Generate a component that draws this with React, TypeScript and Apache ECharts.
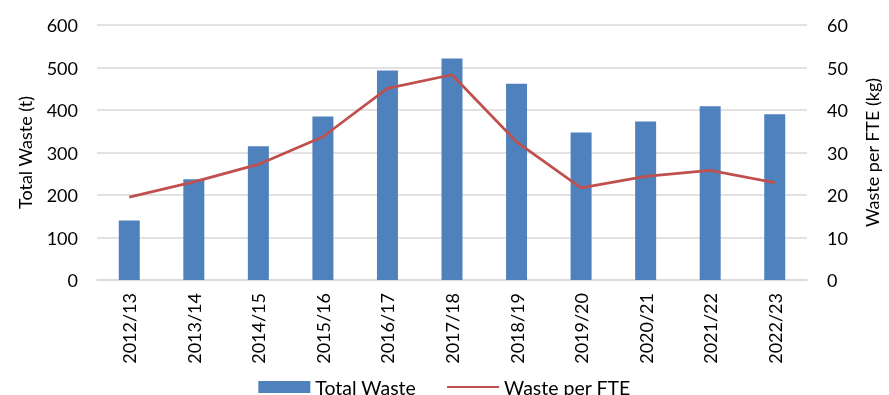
import React, { useEffect, useRef } from "react";
import * as echarts from "echarts";

const categories = ["2012/13", "2013/14", "2014/15", "2015/16", "2016/17", "2017/18", "2018/19", "2019/20", "2020/21", "2021/22", "2022/23"];
const totalWaste = [140, 237, 315, 385, 493, 521, 462, 347, 373, 409, 390];
const wastePerFTE = [19.5, 23.1, 27.2, 33.7, 45.1, 48.3, 32.5, 21.7, 24.4, 25.8, 22.9];

const FONT = "Lato";

export default function App() {
  const ref = useRef<HTMLDivElement>(null);
  useEffect(() => {
    if (!ref.current) return;
    const chart = echarts.init(ref.current, null, { renderer: "svg" });
    const txt = { color: "#000", fontFamily: FONT, fontSize: 18 };
    chart.setOption({
      animation: false,
      textStyle: { fontFamily: FONT },
      grid: { left: 97, right: 74, top: 25, bottom: 115 },
      legend: {
        top: 372,
        left: "center",
        itemWidth: 52,
        itemHeight: 12,
        itemGap: 30,
        textStyle: { ...txt, fontSize: 19.5 },
        data: [
          { name: "Total Waste", icon: "rect" },
          { name: "Waste per FTE", itemStyle: { opacity: 0 } },
        ],
      },
      xAxis: {
        type: "category",
        data: categories,
        axisLine: { lineStyle: { color: "#D9D9D9", width: 1.5 } },
        axisTick: { show: false },
        axisLabel: { ...txt, rotate: 90, margin: 13 },
      },
      yAxis: [
        {
          type: "value",
          min: 0,
          max: 600,
          interval: 100,
          name: "Total Waste (t)",
          nameLocation: "middle",
          nameGap: 63,
          nameTextStyle: txt,
          axisLabel: { ...txt, margin: 19 },
          splitLine: { lineStyle: { color: "#D9D9D9", width: 1.5 } },
          axisLine: { show: false },
        },
        {
          type: "value",
          min: 0,
          max: 60,
          interval: 10,
          name: "Waste per FTE (kg)",
          nameLocation: "middle",
          nameGap: 56,
          nameTextStyle: txt,
          axisLabel: { ...txt, margin: 20 },
          splitLine: { show: false },
          axisLine: { show: false },
        },
      ],
      series: [
        {
          name: "Total Waste",
          type: "bar",
          data: totalWaste,
          barWidth: 21,
          itemStyle: { color: "#4F81BD" },
        },
        {
          name: "Waste per FTE",
          type: "line",
          yAxisIndex: 1,
          data: wastePerFTE,
          symbol: "none",
          lineStyle: { color: "#C0504D", width: 2.75 },
          itemStyle: { color: "#C0504D" },
        },
      ],
    });
    return () => chart.dispose();
  }, []);
  return <div ref={ref} style={{ position: "fixed", left: 0, top: 0, width: 889, height: 395 }} />;
}
